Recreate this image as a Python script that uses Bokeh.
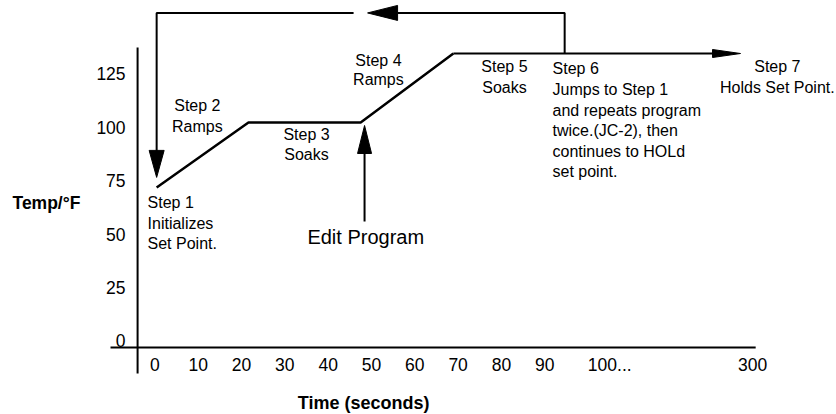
from bokeh.plotting import figure
from bokeh.models import Range1d
from bokeh.core.properties import value
from bokeh.embed import file_html
from bokeh.resources import INLINE

# ---------------- data ----------------
x_tick_values = [0, 10, 20, 30, 40, 50, 60, 70, 80, 90, 105, 138]
x_tick_labels = ["0", "10", "20", "30", "40", "50", "60", "70", "80", "90", "100...", "300"]
y_tick_values = [0, 25, 50, 75, 100, 125]
y_tick_labels = ["0", "25", "50", "75", "100", "125"]

# set-point profile: Step 1 start, ramp end, soak end, ramp end
profile_time = [0.4, 21.6, 47.5, 68.9]
profile_temp = [71.8, 102.2, 102.2, 134.5]
hold_end_time = 135.2        # Step 7 hold arrow tip
jump_time = 94.6             # Step 6 jump point
loop_top_temp = 153.5        # return path level
jump_return_temp = 76.5      # arrow tip back at Step 1
loop_head_time = 49.1        # left-pointing arrow head on return path
edit_time = 48.4
edit_tip_temp = 100.8
edit_tail_temp = 55.8

# ---------------- layout ----------------
W, H = 836, 414
X0, X1 = -35.65, 157.36
Y0, Y1 = -34.50, 159.32
SX = W / (X1 - X0)   # px per time unit
SY = H / (Y1 - Y0)   # px per temp unit

FONT = value("Liberation Sans")
INK = "#000000"

p = figure(width=W, height=H, x_range=Range1d(X0, X1), y_range=Range1d(Y0, Y1),
           output_backend="svg", toolbar_location=None, title=None,
           x_axis_location=None, y_axis_location=None, min_border=0,
           background_fill_color="white", border_fill_color="white")
p.outline_line_color = None
p.xgrid.visible = False
p.ygrid.visible = False


def px_dx(n):
    return n / SX


def px_dy(n):
    return n / SY


def head(tx, ty, dx, dy, length, half):
    bx = tx - length * dx / SX
    by = ty - length * dy / SY
    xs = [tx, bx - half * dy / SX, bx + half * dy / SX]
    ys = [ty, by + half * dx / SY, by - half * dx / SY]
    return xs, ys


# ---- axes (schematic cross-shaped axis lines) ----
axis_y_at = -3.14
axis_x_at = -4.0
p.line([-10.25, 138.7], [axis_y_at, axis_y_at], line_color=INK, line_width=2)
p.line([axis_x_at, axis_x_at], [-15.3, 137.3], line_color=INK, line_width=2)

# tick labels
p.text(x=x_tick_values, y=[axis_y_at - px_dy(17)] * len(x_tick_values), text=x_tick_labels,
       text_font=FONT, text_font_size=value("17.5px"), text_align="center",
       text_baseline="middle", text_color=INK)
p.text(x=[axis_x_at - px_dx(12)] * len(y_tick_values), y=y_tick_values, text=y_tick_labels,
       text_font=FONT, text_font_size=value("17.5px"), text_align="right",
       text_baseline="middle", text_color=INK)

# axis titles
p.text(x=[X0 + px_dx(12)], y=[64.7], text=["Temp/°F"], text_font=FONT,
       text_font_size=value("17.5px"), text_font_style="bold", text_align="left",
       text_baseline="middle", text_color=INK)
p.text(x=[48.2], y=[axis_y_at - px_dy(55)], text=["Time (seconds)"], text_font=FONT,
       text_font_size=value("18px"), text_font_style="bold", text_align="center",
       text_baseline="middle", text_color=INK)

# ---- profile ----
p.line(profile_time, profile_temp, line_color=INK, line_width=2.5)

# hold arrow (Step 5 soak continues to Step 7)
hx, hy = head(hold_end_time, profile_temp[-1], 1, 0, 28, 4)
p.line([profile_time[-1], hold_end_time - px_dx(26)], [profile_temp[-1]] * 2,
       line_color=INK, line_width=2)
p.patch(hx, hy, fill_color=INK, line_color=INK, line_width=1)

# return path (Step 6 jumps to Step 1)
lx, ly = head(loop_head_time, loop_top_temp, -1, 0, 30, 7.5)
p.line([jump_time, jump_time, lx[1]], [profile_temp[-1], loop_top_temp, loop_top_temp],
       line_color=INK, line_width=2)
dx_, dy_ = head(profile_time[0], jump_return_temp, 0, -1, 27, 7.5)
p.line([loop_head_time - px_dx(14), profile_time[0], profile_time[0]],
       [loop_top_temp, loop_top_temp, jump_return_temp + px_dy(25)],
       line_color=INK, line_width=2)
p.patch(lx, ly, fill_color=INK, line_color=INK, line_width=1)
p.patch(dx_, dy_, fill_color=INK, line_color=INK, line_width=1)

# edit program arrow
ex, ey = head(edit_time, edit_tip_temp, 0, 1, 28, 7)
p.line([edit_time, edit_time], [edit_tail_temp, edit_tip_temp - px_dy(26)],
       line_color=INK, line_width=2)
p.patch(ex, ey, fill_color=INK, line_color=INK, line_width=1)

# ---- annotations ----
notes = [
    ("Step 1", -1.7, 64.7, "left"),
    ("Initializes", -1.7, 54.9, "left"),
    ("Set Point.", -1.7, 45.6, "left"),
    ("Step 2", 9.8, 110.2, "center"),
    ("Ramps", 9.8, 100.3, "center"),
    ("Step 3", 35.0, 96.6, "center"),
    ("Soaks", 35.0, 87.2, "center"),
    ("Step 4", 51.6, 131.2, "center"),
    ("Ramps", 51.6, 122.3, "center"),
    ("Step 5", 80.7, 128.4, "center"),
    ("Soaks", 80.7, 118.6, "center"),
    ("Step 6", 91.8, 127.5, "left"),
    ("Jumps to Step 1", 91.8, 117.7, "left"),
    ("and repeats program", 91.8, 107.8, "left"),
    ("twice.(JC-2), then", 91.8, 98.4, "left"),
    ("continues to HOLd", 91.8, 88.7, "left"),
    ("set point.", 91.8, 79.3, "left"),
    ("Step 7", 143.7, 128.4, "center"),
    ("Holds Set Point.", 143.7, 118.6, "center"),
]
for t, x, y, a in notes:
    p.text(x=[x], y=[y], text=[t], text_font=FONT, text_font_size=value("16px"),
           text_align=a, text_baseline="middle", text_color=INK)

p.text(x=[35.2], y=[48.4], text=["Edit Program"], text_font=FONT,
       text_font_size=value("20px"), text_align="left", text_baseline="middle",
       text_color=INK)

open("out.html", "w").write(file_html(p, INLINE))
